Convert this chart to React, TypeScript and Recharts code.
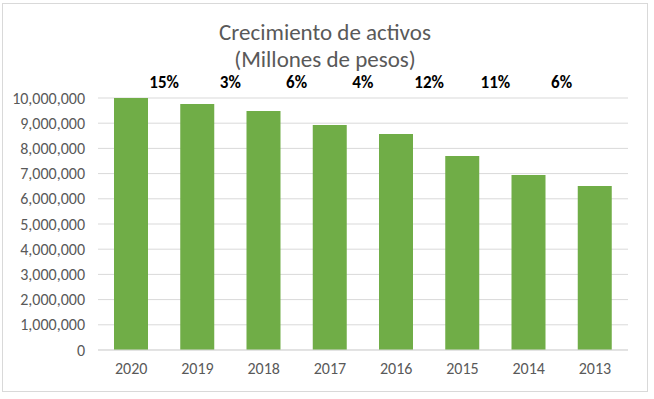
import { BarChart, Bar, XAxis, YAxis, CartesianGrid, LabelList } from "recharts";

// datos
const YEARS = ["2020", "2019", "2018", "2017", "2016", "2015", "2014", "2013"];
const ACTIVOS = [10000000, 9760000, 9480000, 8930000, 8570000, 7700000, 6940000, 6510000];
const CRECIMIENTO = ["15%", "3%", "6%", "4%", "12%", "11%", "6%", ""];
const Y_TICKS = [0, 1000000, 2000000, 3000000, 4000000, 5000000, 6000000, 7000000, 8000000, 9000000, 10000000];

const CHART_WIDTH = 644;
const CHART_HEIGHT = 387;
const MARGIN = { top: 94, right: 19, left: 0, bottom: 11 };
const Y_AXIS_WIDTH = 95;
const FONT = "Carlito, Calibri, Lato, sans-serif";
const GRAY = "#595959";
const BAR_COLOR = "#70AD47";

const data = YEARS.map((year, i) => ({
  year,
  activos: ACTIVOS[i],
  crecimiento: CRECIMIENTO[i],
}));

// etiqueta de crecimiento entre dos barras, a la altura fija del titulo
const GrowthLabel = (props: any) => {
  const { x, width, value } = props;
  if (!value) return null;
  const slot = (CHART_WIDTH - Y_AXIS_WIDTH - MARGIN.right) / YEARS.length;
  return (
    <text
      x={x + width / 2 + slot / 2}
      y={84}
      textAnchor="middle"
      fontFamily={FONT}
      fontSize={17}
      fontWeight="bold"
      fill="#000"
    >
      {value}
    </text>
  );
};

export default function App() {
  return (
    <div
      style={{
        position: "absolute",
        left: 2,
        top: 3,
        width: CHART_WIDTH + 2,
        height: CHART_HEIGHT + 2,
        border: "1px solid #d9d9d9",
        background: "#fff",
        boxSizing: "border-box",
      }}
    >
      <div
        style={{
          position: "absolute",
          left: 0,
          right: 0,
          top: 15,
          textAlign: "center",
          fontFamily: FONT,
          fontSize: 23,
          lineHeight: "27px",
          color: GRAY,
        }}
      >
        Crecimiento de activos
        <br />
        (Millones de pesos)
      </div>
      <BarChart
        width={CHART_WIDTH}
        height={CHART_HEIGHT}
        data={data}
        margin={MARGIN}
        barSize={34}
      >
        <CartesianGrid vertical={false} stroke="#d9d9d9" />
        <XAxis
          dataKey="year"
          stroke="#d9d9d9"
          tickLine={false}
          height={30}
          tickMargin={7}
          tick={{ fill: GRAY, fontSize: 16, fontFamily: FONT }}
        />
        <YAxis
          width={Y_AXIS_WIDTH}
          domain={[0, 10000000]}
          ticks={Y_TICKS}
          axisLine={false}
          tickLine={false}
          tickSize={0}
          tickMargin={13}
          tickFormatter={(v: number) => v.toLocaleString("en-US")}
          tick={{ fill: GRAY, fontSize: 16, fontFamily: FONT }}
        />
        <Bar dataKey="activos" fill={BAR_COLOR} isAnimationActive={false}>
          <LabelList dataKey="crecimiento" content={<GrowthLabel />} />
        </Bar>
      </BarChart>
    </div>
  );
}
